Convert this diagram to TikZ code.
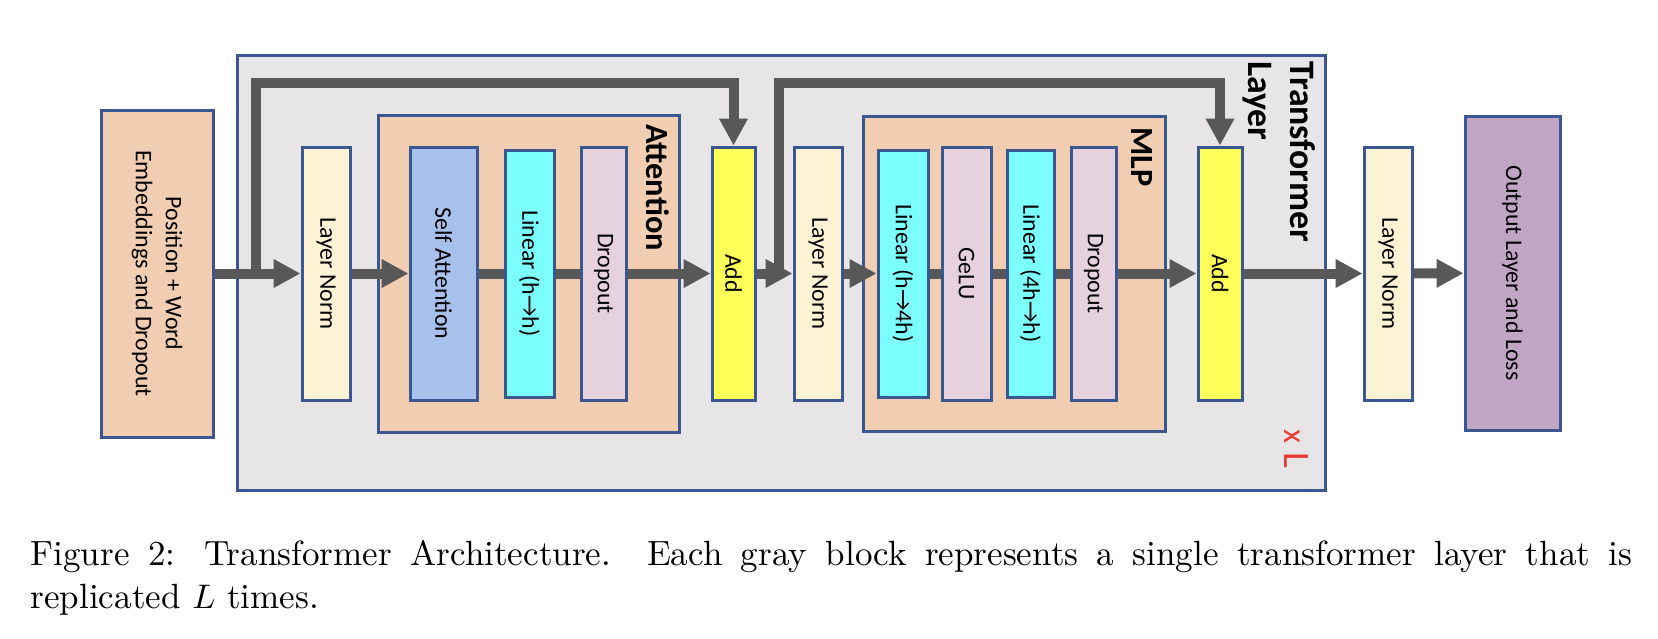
\documentclass[tikz,border=0pt]{standalone}
\usepackage{fontspec}
\newfontfamily\labelfont{Carlito}
\usetikzlibrary{arrows.meta, calc}
\usepackage{xcolor}

\definecolor{edgeblue}{RGB}{59,87,145}
\definecolor{layergray}{RGB}{231,229,230}
\definecolor{peach}{RGB}{241,205,178}
\definecolor{normcream}{RGB}{253,242,212}
\definecolor{attnblue}{RGB}{168,192,236}
\definecolor{lincyan}{RGB}{124,253,254}
\definecolor{droppink}{RGB}{230,210,220}
\definecolor{addyellow}{RGB}{255,255,90}
\definecolor{outpurple}{RGB}{193,165,197}
\definecolor{flowgray}{RGB}{88,88,88}
\definecolor{repred}{RGB}{232,58,52}

\tikzset{
  blk/.style={draw=edgeblue, line width=0.88pt, inner sep=0pt},
  area/.style 2 args={minimum width=#1*0.2933pt, minimum height=#2*0.2933pt},
  % rotated boxes: width runs along the text
  dims/.style 2 args={minimum width=#2*0.2933pt, minimum height=#1*0.2933pt},
  op/.style={blk, rotate=-90, align=center, font=\labelfont\fontsize{7}{8.8}\selectfont},
  grp/.style={inner sep=0pt, rotate=-90, anchor=north west, font=\labelfont\bfseries\fontsize{9.5}{11}\selectfont},
  flow/.style={draw=flowgray, line width=2.93pt},
  flowarrow/.style={flow, -{Triangle[length=7.9pt, width=7.9pt]}}
}

\begin{document}
\begin{tikzpicture}[x=0.2933pt, y=-0.2933pt]
      \useasboundingbox (0,0) rectangle (1658,638);

      % containers
      \node[blk, fill=layergray, area={1088}{435}] (layer) at (781,272.5) {};
      \node[blk, fill=peach, area={301}{317}] (attn) at (528.5,273.5) {};
      \node[blk, fill=peach, area={302}{315}] (mlp) at (1014,273.5) {};

      \node[grp, font=\labelfont\bfseries\fontsize{10.5}{12.6}\selectfont, align=left] (layerlabel) at ($(layer.north east)+(-10,7)$) {Transformer\\Layer};
      \node[grp] (attnlabel) at ($(attn.north east)+(-11,10)$) {Attention};
      \node[grp] (mlplabel) at ($(mlp.north east)+(-13,12)$) {MLP};
      \node[inner sep=0pt, rotate=-90, anchor=north east, text=repred, font=\labelfont\fontsize{11}{13}\selectfont] (times) at ($(layer.south east)+(-17,-23)$) {{\fontsize{9.5}{11}\selectfont x} L};

      % blocks
      \node[op, fill=peach, dims={112}{327}] (embed) at (157,273.5) {Position + Word\\Embeddings and Dropout};
      \node[op, fill=normcream, dims={48}{253}] (ln1) at (326,273.5) {Layer Norm};
      \node[op, fill=attnblue, dims={67}{253}] (sa) at (443.5,273.5) {Self Attention};
      \node[op, fill=lincyan, dims={49}{247}] (proj) at (529.5,273.5) {Linear (h→h)};
      \node[op, fill=droppink, dims={45}{253}] (drop1) at (603.5,273.5) {Dropout};
      \node[op, fill=addyellow, dims={43}{253}] (add1) at (733.5,273.5) {Add};
      \node[op, fill=normcream, dims={48}{253}] (ln2) at (818,273.5) {Layer Norm};
      \node[op, fill=lincyan, dims={50}{247}] (up) at (903,273.5) {Linear (h→4h)};
      \node[op, fill=droppink, dims={49}{253}] (gelu) at (966.5,273.5) {GeLU};
      \node[op, fill=lincyan, dims={47}{247}] (down) at (1030.5,273.5) {Linear (4h→h)};
      \node[op, fill=droppink, dims={45}{253}] (drop2) at (1093.5,273.5) {Dropout};
      \node[op, fill=addyellow, dims={44}{253}] (add2) at (1220,273.5) {Add};
      \node[op, fill=normcream, dims={48}{253}] (ln3) at (1388,273.5) {Layer Norm};
      \node[op, fill=outpurple, dims={95}{314}] (out) at (1512.5,273) {Output Layer and Loss};

      % main path
      \draw[flowarrow] (embed) -- (ln1);
      \draw[flowarrow] (ln1) -- (sa);
      \draw[flow] (sa) -- (proj);
      \draw[flow] (proj) -- (drop1);
      \draw[flowarrow] (drop1) -- (add1);
      \draw[flowarrow] (add1) -- (ln2);
      \draw[flowarrow] (ln2) -- (up);
      \draw[flow] (up) -- (gelu);
      \draw[flow] (gelu) -- (down);
      \draw[flow] (down) -- (drop2);
      \draw[flowarrow] (drop2) -- (add2);
      \draw[flowarrow] (add2) -- (ln3);
      \draw[flowarrow] (ln3) -- (out);

      % residual skips
      \coordinate (fork1) at (256,278);
      \coordinate (bend1) at (256,83);
      \coordinate (fork2) at (779,278);
      \coordinate (bend2) at (779,83);
      \draw[flowarrow] (fork1) -- (bend1) -| (add1);
      \draw[flowarrow] (fork2) -- (bend2) -| (add2);

      \node[anchor=north west, inner sep=0pt, text width=469.75pt, align=justify, font=\fontsize{10.28}{12.4}\selectfont] (caption) at (30,540)
        {Figure 2: Transformer Architecture.  Each gray block represents a single transformer layer that is\linebreak replicated $L$ times.};

    \end{tikzpicture}
\end{document}
